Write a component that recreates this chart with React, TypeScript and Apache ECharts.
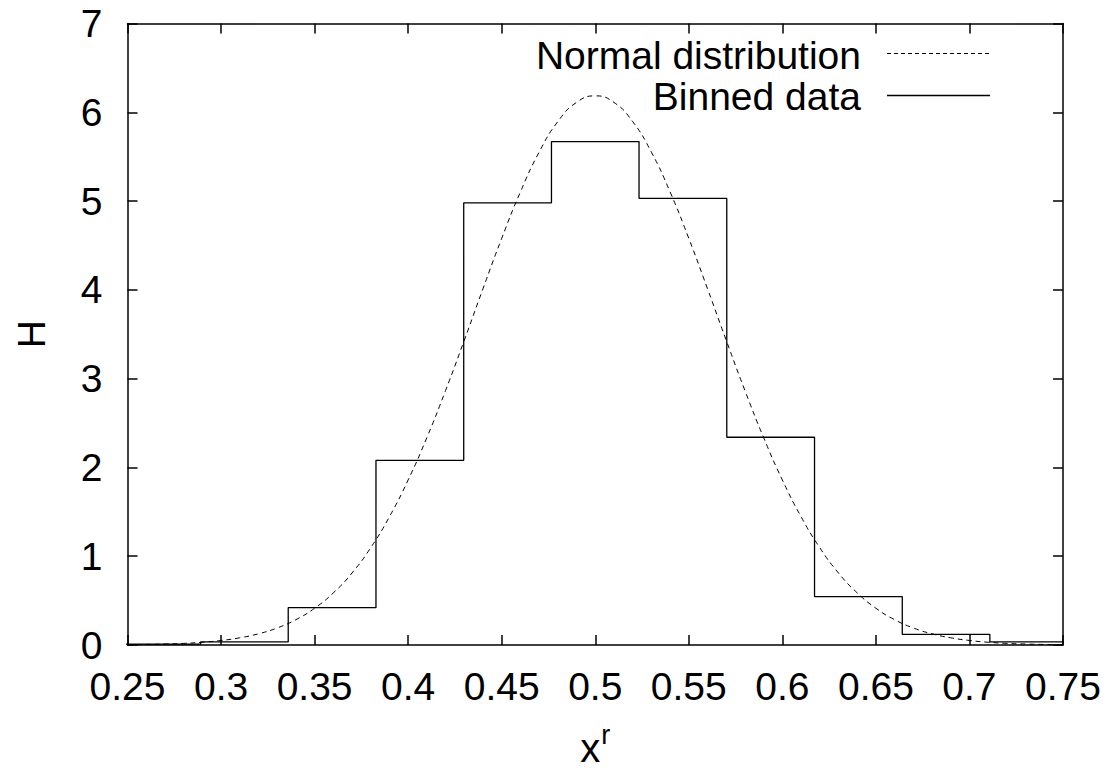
import React, { useEffect, useRef } from "react";
import * as echarts from "echarts";

// Histogram bin edges and heights (binned data)
const binEdges = [0.2422, 0.2891, 0.3359, 0.3828, 0.4297, 0.4766, 0.5234, 0.5703, 0.6172, 0.6641, 0.7109, 0.7578];
const binHeights = [0.01, 0.035, 0.42, 2.08, 4.98, 5.67, 5.03, 2.34, 0.545, 0.12, 0.035];

// Normal distribution curve
const normX = [
  0.25, 0.26, 0.27, 0.28, 0.29, 0.3, 0.31, 0.32, 0.33, 0.34, 0.35, 0.36, 0.37, 0.38, 0.39, 0.4, 0.41, 0.42, 0.43, 0.44, 0.45, 0.46, 0.47, 0.48, 0.49,
  0.5,
  0.51, 0.52, 0.53, 0.54, 0.55, 0.56, 0.57, 0.58, 0.59, 0.6, 0.61, 0.62, 0.63, 0.64, 0.65, 0.66, 0.67, 0.68, 0.69, 0.7, 0.71, 0.72, 0.73, 0.74, 0.75,
];
const normY = [
  0.003, 0.006, 0.011, 0.018, 0.031, 0.051, 0.081, 0.126, 0.192, 0.285, 0.414, 0.587, 0.811, 1.096, 1.445, 1.859, 2.336, 2.866, 3.432, 4.013, 4.58, 5.103, 5.551, 5.895, 6.111,
  6.185,
  6.111, 5.895, 5.551, 5.103, 4.58, 4.013, 3.432, 2.866, 2.336, 1.859, 1.445, 1.096, 0.811, 0.587, 0.414, 0.285, 0.192, 0.126, 0.081, 0.051, 0.031, 0.018, 0.011, 0.006, 0.003,
];

const legendLabels = ["Normal distribution", "Binned data"];
const xTitle = "x";
const xTitleSup = "r";
const yTitle = "H";

const FONT = "'Liberation Sans', Arial, Helvetica, sans-serif";

export default function App() {
  const ref = useRef<HTMLDivElement>(null);

  useEffect(() => {
    if (!ref.current) return;
    document.body.style.margin = "0";
    const chart = echarts.init(ref.current, null, { renderer: "svg" });

    const histData: number[][] = binHeights.map((h, i) => [binEdges[i], h]);
    histData.push([binEdges[binEdges.length - 1], binHeights[binHeights.length - 1]]);
    const normData = normX.map((x, i) => [x, normY[i]]);

    const axisLine = { show: true, onZero: false, lineStyle: { color: "#000", width: 1.5 } };
    const axisTick = { show: true, inside: true, length: 10, lineStyle: { color: "#000", width: 1.5 } };
    const labelStyle = { color: "#000", fontSize: 39, fontFamily: FONT };

    const option: any = {
      animation: false,
      backgroundColor: "#fff",
      textStyle: { fontFamily: FONT },
      grid: { left: 127.5, top: 23.5, right: 45, bottom: 124, containLabel: false },
      xAxis: [
        {
          type: "value",
          min: 0.25,
          max: 0.75,
          interval: 0.05,
          position: "bottom",
          axisLine,
          axisTick,
          splitLine: { show: false },
          axisLabel: {
            ...labelStyle,
            margin: 22,
            showMinLabel: true,
            showMaxLabel: true,
            formatter: (v: number) => String(parseFloat(v.toFixed(2))),
          },
          name: `{x|${xTitle}}{s|${xTitleSup}}`,
          nameLocation: "middle",
          nameGap: 83,
          nameTextStyle: {
            rich: {
              x: { fontSize: 40, lineHeight: 40, fontFamily: FONT, color: "#000", verticalAlign: "bottom" },
              s: { fontSize: 27, lineHeight: 27, fontFamily: FONT, color: "#000", verticalAlign: "bottom", padding: [0, 0, 20, 1] },
            },
          },
        },
        {
          type: "value",
          min: 0.25,
          max: 0.75,
          interval: 0.05,
          position: "top",
          axisLine,
          axisTick,
          splitLine: { show: false },
          axisLabel: { show: false },
        },
      ],
      yAxis: [
        {
          type: "value",
          min: 0,
          max: 7,
          interval: 1,
          position: "left",
          axisLine,
          axisTick,
          splitLine: { show: false },
          axisLabel: { ...labelStyle, margin: 25, showMinLabel: true, showMaxLabel: true },
          name: yTitle,
          nameLocation: "middle",
          nameGap: 77,
          nameTextStyle: { ...labelStyle },
        },
        {
          type: "value",
          min: 0,
          max: 7,
          interval: 1,
          position: "right",
          axisLine,
          axisTick,
          splitLine: { show: false },
          axisLabel: { show: false },
        },
      ],
      series: [
        {
          name: legendLabels[0],
          type: "line",
          data: normData,
          smooth: true,
          showSymbol: false,
          symbol: "none",
          clip: true,
          lineStyle: { color: "#000", width: 1, type: [5, 4] },
          z: 3,
        },
        {
          name: legendLabels[1],
          type: "line",
          data: histData,
          step: "end",
          showSymbol: false,
          symbol: "none",
          clip: true,
          lineStyle: { color: "#000", width: 1.3 },
          z: 2,
        },
      ],
      graphic: [
        {
          type: "text",
          x: 861,
          y: 55,
          style: { text: legendLabels[0], fill: "#000", font: `39px ${FONT}`, textAlign: "right", textVerticalAlign: "middle" },
        },
        {
          type: "line",
          shape: { x1: 887, y1: 53.5, x2: 990, y2: 53.5 },
          style: { stroke: "#000", lineWidth: 1, lineDash: [4, 3] },
        },
        {
          type: "text",
          x: 861,
          y: 96,
          style: { text: legendLabels[1], fill: "#000", font: `39px ${FONT}`, textAlign: "right", textVerticalAlign: "middle" },
        },
        {
          type: "line",
          shape: { x1: 887, y1: 95.5, x2: 990, y2: 95.5 },
          style: { stroke: "#000", lineWidth: 1.3 },
        },
      ],
    };

    chart.setOption(option);
    return () => chart.dispose();
  }, []);

  return <div ref={ref} style={{ position: "fixed", left: 0, top: 0, width: 1108, height: 773, background: "#fff" }} />;
}
